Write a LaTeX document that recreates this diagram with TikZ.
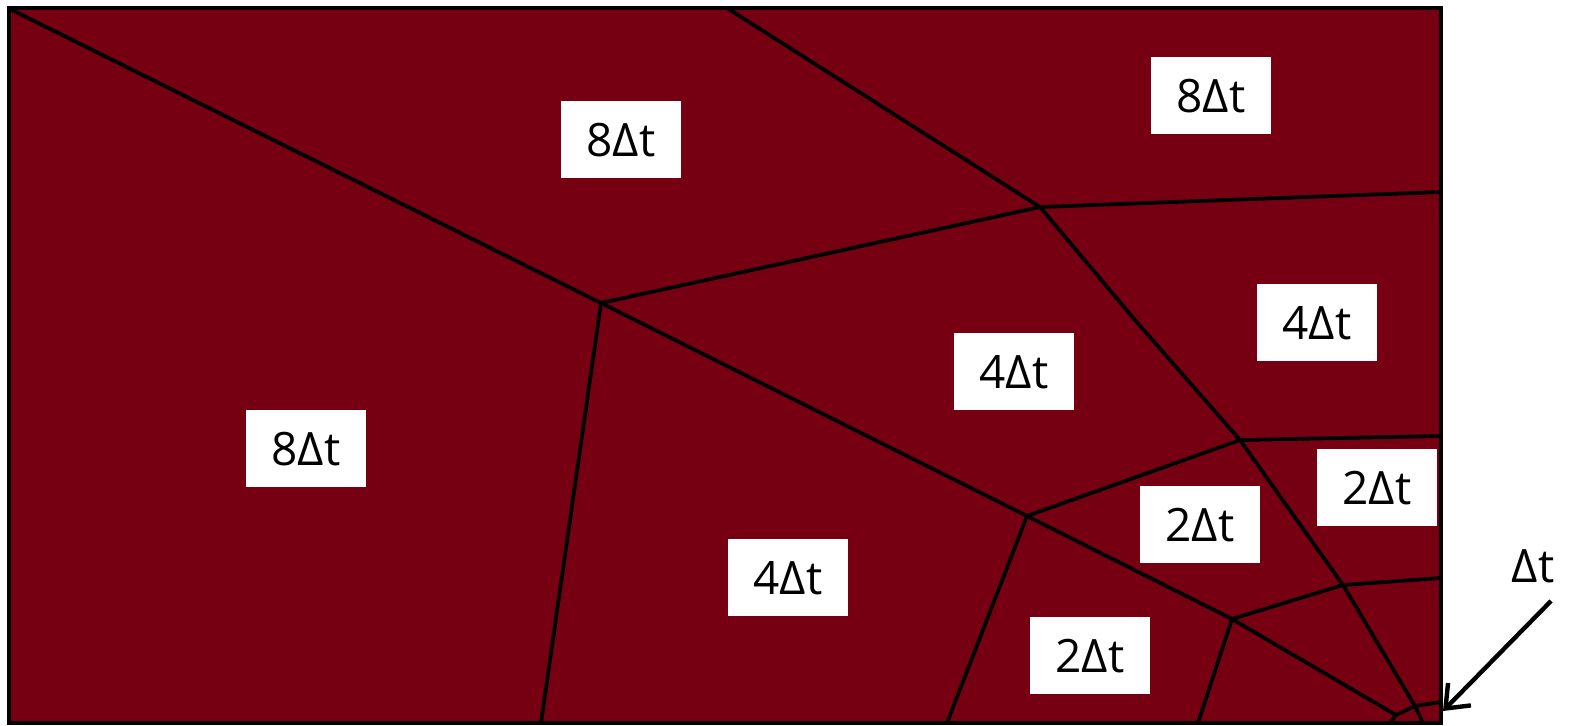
\documentclass[tikz,border=0pt]{standalone}
\usepackage{fontspec}
\setmainfont{Open Sans}
\usetikzlibrary{arrows.meta}
\definecolor{cellred}{RGB}{118,0,18}
\tikzset{
  edge/.style={line width=1.9pt,black,line join=round},
  lbl/.style={fill=white,minimum width=60pt,minimum height=38.5pt,inner sep=0pt,font=\fontsize{23}{26}\selectfont},
}
\begin{document}
\begin{tikzpicture}[x=0.5pt,y=-0.5pt]
\useasboundingbox (0,0) rectangle (1571,726);
\fill[cellred] (9,8) rectangle (1441,723);
% vertices
\coordinate (tl) at (10,9);
\coordinate (A) at (601,303);
\coordinate (B) at (1040,207);
\coordinate (C) at (1027,516);
\coordinate (D) at (1240,440);
\coordinate (E) at (1343,585);
\coordinate (F) at (1232,619);
\coordinate (G) at (1415,706);
\coordinate (H) at (1396,715);
\coordinate (t1) at (727,8);
\coordinate (r1) at (1441,192);
\coordinate (r2) at (1441,436);
\coordinate (r3) at (1441,578);
\coordinate (r4) at (1441,702);
\coordinate (b1) at (541,723);
\coordinate (b2) at (947,723);
\coordinate (b3) at (1198,723);
\coordinate (b4) at (1390,723);
\coordinate (b5) at (1423,723);
% edges
\draw[edge] (tl) -- (A) -- (B) -- (r1);
\draw[edge] (t1) -- (B) -- (1135,320) -- (D) -- (r2);
\draw[edge] (A) -- (b1);
\draw[edge] (A) -- (C) -- (F) -- (H) -- (b4);
\draw[edge] (C) -- (D) -- (E) -- (r3);
\draw[edge] (C) -- (b2);
\draw[edge] (F) -- (E) -- (G) -- (b5);
\draw[edge] (F) -- (b3);
\draw[edge] (H) -- (G) -- (r4);
\draw[line width=2.4pt,black] (9,8) rectangle (1441,723);
% labels
\node[lbl] (l1) at (621,140) {8Δt};
\node[lbl] (l2) at (1211,96) {8Δt};
\node[lbl] (l3) at (306,449) {8Δt};
\node[lbl] (l4) at (1014,372) {4Δt};
\node[lbl] (l5) at (1317,323) {4Δt};
\node[lbl] (l6) at (788,578) {4Δt};
\node[lbl] (l7) at (1200,525) {2Δt};
\node[lbl] (l8) at (1377,488) {2Δt};
\node[lbl] (l9) at (1090,656) {2Δt};
% arrow
\node[font=\fontsize{23}{26}\selectfont,inner sep=0pt] (dt) at (1533,566) {Δt};
\coordinate (as) at (1551,601);
\coordinate (ae) at (1443,711);
\draw[line width=2.2pt,-{Straight Barb[length=10pt,width=16pt,line width=2.2pt]}] (as) -- (ae);
\end{tikzpicture}
\end{document}
